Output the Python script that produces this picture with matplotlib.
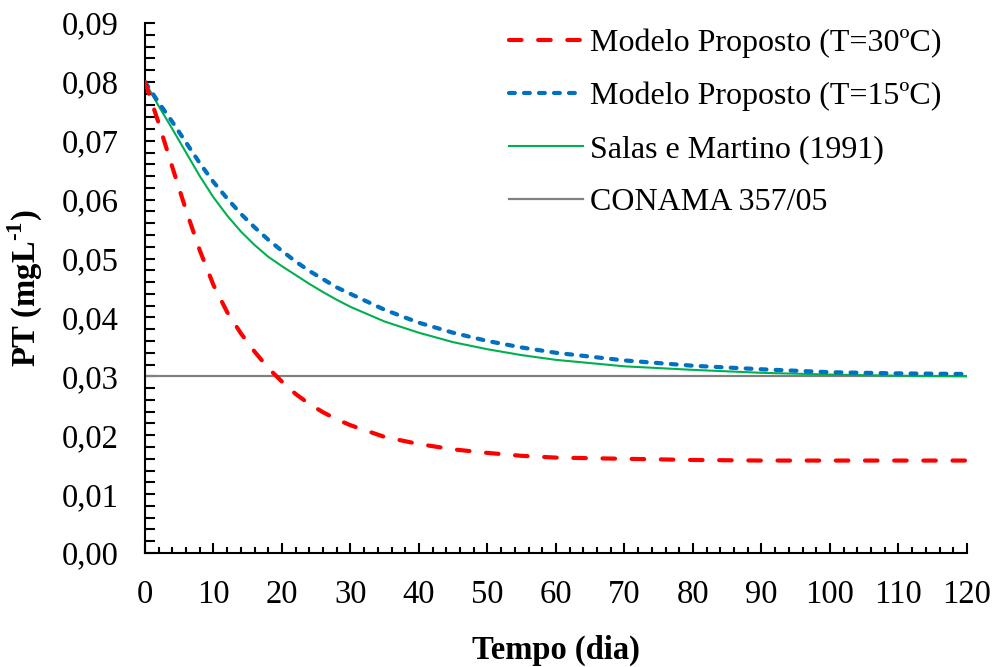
import matplotlib
matplotlib.use("Agg")
import matplotlib.pyplot as plt
from matplotlib.ticker import MultipleLocator, FuncFormatter

plt.rcParams['font.family'] = 'Liberation Serif'
plt.rcParams['mathtext.fontset'] = 'custom'
plt.rcParams['mathtext.rm'] = 'Liberation Serif:bold'
plt.rcParams['mathtext.bf'] = 'Liberation Serif:bold'

# values (days, mg/L)
dias = [0, 2, 4, 6, 8, 10, 12, 14, 16, 18, 20, 22, 24, 26, 28, 30,
        35, 40, 45, 50, 55, 60, 70, 80, 90, 100, 110, 120]
pt_30 = [0.0800, 0.0730, 0.0655, 0.0582, 0.0514, 0.0455, 0.0409, 0.0373,
         0.0342, 0.0314, 0.0291, 0.0270, 0.0253, 0.0239, 0.0227, 0.0217,
         0.0197, 0.0185, 0.0176, 0.0170, 0.0165, 0.0162, 0.0160, 0.0158,
         0.0157, 0.0157, 0.0157, 0.0157]
pt_15 = [0.0800, 0.0765, 0.0732, 0.0697, 0.0662, 0.0630, 0.0602, 0.0576,
         0.0553, 0.0532, 0.0513, 0.0495, 0.0479, 0.0465, 0.0451, 0.0440,
         0.0413, 0.0391, 0.0374, 0.0360, 0.0349, 0.0340, 0.0327, 0.0318,
         0.0312, 0.0307, 0.0305, 0.0304]
salas = [0.0800, 0.0759, 0.0720, 0.0680, 0.0640, 0.0604, 0.0573, 0.0546,
         0.0523, 0.0503, 0.0487, 0.0472, 0.0457, 0.0443, 0.0430, 0.0418,
         0.0393, 0.0374, 0.0358, 0.0346, 0.0336, 0.0328, 0.0317, 0.0311,
         0.0306, 0.0303, 0.0301, 0.0300]
conama_x = [0, 120]
conama = [0.03, 0.03]

fig = plt.figure(figsize=(9.97, 6.67), dpi=100)
ax = fig.add_axes([0.1454, 0.1709, 0.8245, 0.7946])

ax.plot(dias, pt_30, color='#FF0000', lw=3, dashes=(3, 4),
        dash_capstyle='round', label='Modelo Proposto (T=30ºC)', zorder=5)
ax.plot(dias, pt_15, color='#0070C0', lw=3, dashes=(1.4, 2.2),
        dash_capstyle='round', label='Modelo Proposto (T=15ºC)', zorder=4)
ax.plot(dias, salas, color='#00B050', lw=1.5,
        label='Salas e Martino (1991)', zorder=3)
ax.plot(conama_x, conama, color='#808080', lw=1.6,
        label='CONAMA 357/05', zorder=2)

ax.set_xlim(0, 120)
ax.set_ylim(0, 0.09)
ax.xaxis.set_major_locator(MultipleLocator(10))
ax.xaxis.set_minor_locator(MultipleLocator(2))
ax.yaxis.set_major_locator(MultipleLocator(0.01))
ax.yaxis.set_minor_locator(MultipleLocator(0.002))
ax.yaxis.set_major_formatter(FuncFormatter(lambda v, p: f"{v:.2f}".replace('.', ',')))

for s in ['top', 'right']:
    ax.spines[s].set_visible(False)
for s in ['left', 'bottom']:
    ax.spines[s].set_linewidth(1.5)

ax.tick_params(axis='x', which='major', direction='in', length=7, width=1.5,
               labelsize=23.5, pad=19)
ax.tick_params(axis='x', which='minor', direction='in', length=4.3, width=1.5)
ax.tick_params(axis='y', which='both', direction='in', length=7, width=1.5,
               labelsize=23.5, pad=19)

ax.set_xlabel('Tempo (dia)', fontsize=23.5, fontweight='bold', labelpad=18)
ax.set_ylabel('PT (mgL$^{\\text{-1}}$)', fontsize=23.5, fontweight='bold',
              labelpad=12)

ax.legend(loc='upper right', bbox_to_anchor=(0.944, 0.957),
          bbox_transform=fig.transFigure, frameon=False, fontsize=23,
          handlelength=2.3, handletextpad=0.22, labelspacing=0.74,
          borderpad=0, borderaxespad=0)

fig.savefig('out.png', dpi=100)
